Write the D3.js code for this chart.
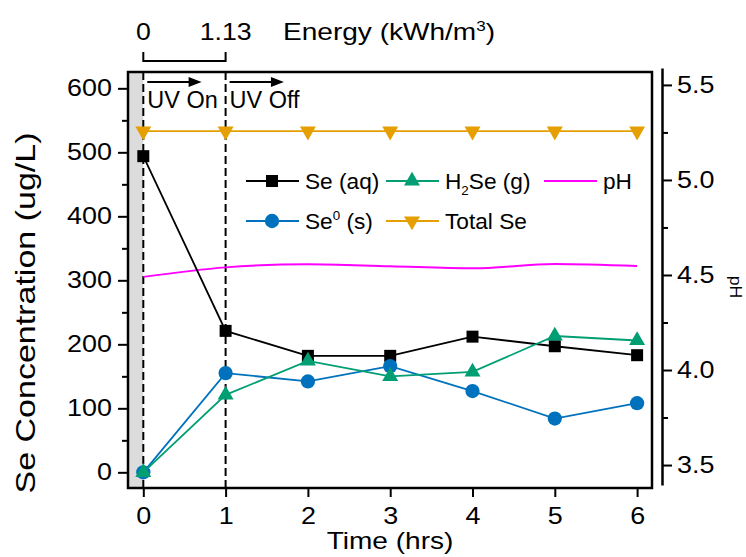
<!DOCTYPE html>
<html>
<head>
<meta charset="utf-8">
<script src="https://cdn.jsdelivr.net/npm/d3@7"></script>
<style>
  body { margin: 0; background: #fff; }
  text { font-family: "Liberation Sans", Arial, sans-serif; fill: #000; }
</style>
</head>
<body>
<div id="chart"></div>
<script>
// data
const time = [0, 1, 2, 3, 4, 5, 6]
const seAq = [494, 221, 182, 182, 212, 197, 183]
const se0 = [0, 155, 142, 166, 127, 84, 108]
const h2se = [0, 121, 174, 150, 157, 213, 206]
const totalSe = [533, 533, 533, 533, 533, 533, 533]
const pH = [4.49, 4.54, 4.557, 4.546, 4.535, 4.558, 4.547]
const leftTicks = [0, 100, 200, 300, 400, 500, 600]
const rightTicks = [3.5, 4.0, 4.5, 5.0, 5.5]
const energyTicks = [0, 1.13]
const phaseStarts = [0, 1]
const phaseLabels = ['UV On', 'UV Off']

const width = 746, height = 557
const TICK_SX = 1.17   // tick digits in the original are wider than Arial
const box = {left: 128, right: 652, top: 72, bottom: 488}

const x = d3.scaleLinear().domain([-0.186, 6.181]).range([box.left, box.right])
const y = d3.scaleLinear().domain([-24.5, 625.5]).range([box.bottom, box.top])
const yR = d3.scaleLinear().domain([3.395, 5.589]).range([485, 68])
const energy = d3.scaleLinear().domain([0, 1.13]).range([x(0), x(1)])

const svg = d3.select('#chart').append('svg')
  .attr('width', width).attr('height', height)

// text helper, sx = horizontal stretch along the reading direction
const label = (g, px, py, str, size, anchor, sx, rot) => g.append('text')
  .attr('transform', `translate(${px},${py})${rot ? ` rotate(${rot})` : ''} scale(${sx || 1},1)`)
  .attr('font-size', size)
  .attr('text-anchor', anchor || 'start')
  .text(str)

// grey "before" region
svg.append('rect')
  .attr('x', box.left).attr('y', box.top)
  .attr('width', x(0) - box.left).attr('height', box.bottom - box.top)
  .attr('fill', '#dcdcdc')

// dashed phase lines
svg.selectAll('line.phase').data(phaseStarts).enter().append('line')
  .attr('x1', d => x(d)).attr('x2', d => x(d))
  .attr('y1', box.top).attr('y2', box.bottom)
  .attr('stroke', '#000').attr('stroke-width', 2).attr('stroke-dasharray', '8,4')

// arrows + phase text
phaseStarts.forEach((s, i) => {
  const x1 = x(s) + 4, x2 = x(s + 1) - 24, ay = 82
  svg.append('line').attr('x1', x1).attr('x2', x2 - 10).attr('y1', ay).attr('y2', ay)
    .attr('stroke', '#000').attr('stroke-width', 2)
  svg.append('path').attr('d', `M${x2},${ay} L${x2 - 13},${ay - 5} L${x2 - 13},${ay + 5} Z`).attr('fill', '#000')
  label(svg, x1, 108, phaseLabels[i], 23, 'start', 1.02)
})

// axes
const fmtTicks = (g, dx, anchor) => {
  g.selectAll('.tick line').attr('stroke-width', 2)
  g.selectAll('.tick text').attr('x', null).attr('font-size', 23)
    .attr('transform', `translate(${dx},0) scale(${TICK_SX},1)`)
    .attr('fill', '#000').attr('font-family', null).attr('text-anchor', anchor)
}

const gl = svg.append('g').attr('transform', `translate(${box.left},0)`)
  .call(d3.axisLeft(y).tickValues(leftTicks).tickSize(10).tickSizeOuter(0))
gl.select('.domain').remove()
fmtTicks(gl, -16, 'end')
const glm = svg.append('g').attr('transform', `translate(${box.left},0)`)
  .call(d3.axisLeft(y).tickValues(leftTicks.slice(0, -1).map(d => d + 50)).tickSize(6).tickFormat(''))
glm.select('.domain').remove()
glm.selectAll('line').attr('stroke-width', 2)

const gb = svg.append('g').attr('transform', `translate(0,${box.bottom})`)
  .call(d3.axisBottom(x).tickValues(time).tickSize(9).tickPadding(11).tickFormat(d3.format('d')))
gb.select('.domain').remove()
fmtTicks(gb, 0, 'middle')

const gr = svg.append('g').attr('transform', 'translate(662,0)')
  .call(d3.axisRight(yR).tickValues(rightTicks).tickSize(10).tickSizeOuter(0).tickFormat(d3.format('.1f')))
gr.select('.domain').attr('stroke-width', 2.5)
fmtTicks(gr, 15, 'start')
const grm = svg.append('g').attr('transform', 'translate(662,0)')
  .call(d3.axisRight(yR).tickValues(rightTicks.slice(0, -1).map(d => d + 0.25)).tickSize(6).tickFormat(''))
grm.select('.domain').remove()
grm.selectAll('line').attr('stroke-width', 2)

// plot frame
svg.append('rect')
  .attr('x', box.left).attr('y', box.top)
  .attr('width', box.right - box.left).attr('height', box.bottom - box.top)
  .attr('fill', 'none').attr('stroke', '#000').attr('stroke-width', 2.5)

// top energy bracket
const eg = svg.append('g')
eg.append('path')
  .attr('d', `M${energy(0)},52 V61 H${energy(1.13)} V52`)
  .attr('fill', 'none').attr('stroke', '#000').attr('stroke-width', 2)
energyTicks.forEach(e => label(eg, energy(e), 40, String(e), 23, 'middle', 1.16))
const et = label(eg, 283, 40, '', 23, 'start', 1.22)
et.append('tspan').text('Energy (kWh/m')
et.append('tspan').attr('dy', -9).attr('font-size', 14).text('3')
et.append('tspan').attr('dy', 9).text(')')

// axis titles
label(svg, 390, 549, 'Time (hrs)', 23, 'middle', 1.22)
label(svg, 35, 313, 'Se Concentration (ug/L)', 27, 'middle', 1.26, -90)
label(svg, 730, 287, 'pH', 16, 'middle', 1.1, 90)

// series
const series = [
  {name: 'aq', values: seAq, color: '#000000', sym: d3.symbolSquare, size: 144, rot: 0},
  {name: 's', values: se0, color: '#0072BD', sym: d3.symbolCircle, size: 160, rot: 0},
  {name: 'g', values: h2se, color: '#009E73', sym: d3.symbolTriangle, size: 110, rot: 0},
  {name: 'tot', values: totalSe, color: '#E69F00', sym: d3.symbolTriangle, size: 110, rot: 180}
]
const line = d3.line().x((d, i) => x(time[i])).y(d => y(d))

// pH line (right axis)
svg.append('path')
  .attr('d', d3.line().curve(d3.curveMonotoneX).x((d, i) => x(time[i])).y(d => yR(d))(pH))
  .attr('fill', 'none').attr('stroke', '#FF00FF').attr('stroke-width', 2)

series.forEach(s => {
  svg.append('path').attr('d', line(s.values))
    .attr('fill', 'none').attr('stroke', s.color).attr('stroke-width', 1.8)
  svg.selectAll(null).data(s.values).enter().append('path')
    .attr('d', d3.symbol().type(s.sym).size(s.size))
    .attr('transform', (d, i) => `translate(${x(time[i])},${y(d)}) rotate(${s.rot})`)
    .attr('fill', s.color)
})

// legend
const legendItems = [
  {s: series[0], lx: 246, ly: 181, text: ['Se (aq)']},
  {s: series[2], lx: 386, ly: 181, text: ['H', '2', 'Se (g)']},
  {s: null, lx: 544, ly: 181, text: ['pH']},
  {s: series[1], lx: 246, ly: 221, text: ['Se', '0', ' (s)']},
  {s: series[3], lx: 386, ly: 221, text: ['Total Se']}
]
legendItems.forEach(it => {
  const g = svg.append('g')
  const col = it.s ? it.s.color : '#FF00FF'
  g.append('line').attr('x1', it.lx).attr('x2', it.lx + 53).attr('y1', it.ly).attr('y2', it.ly)
    .attr('stroke', col).attr('stroke-width', 2)
  if (it.s) {
    g.append('path').attr('d', d3.symbol().type(it.s.sym).size(it.s.size))
      .attr('transform', `translate(${it.lx + 26},${it.ly}) rotate(${it.s.rot})`)
      .attr('fill', col)
  }
  const t = label(g, it.lx + 59, it.ly + 8, '', 22, 'start', 1.03)
  if (it.text.length === 1) t.append('tspan').text(it.text[0])
  else {
    const sub = it.text[1] === '2'
    t.append('tspan').text(it.text[0])
    t.append('tspan').attr('dy', sub ? 6 : -9).attr('font-size', 13).text(it.text[1])
    t.append('tspan').attr('dy', sub ? -6 : 9).text(it.text[2])
  }
})
</script>
</body>
</html>
